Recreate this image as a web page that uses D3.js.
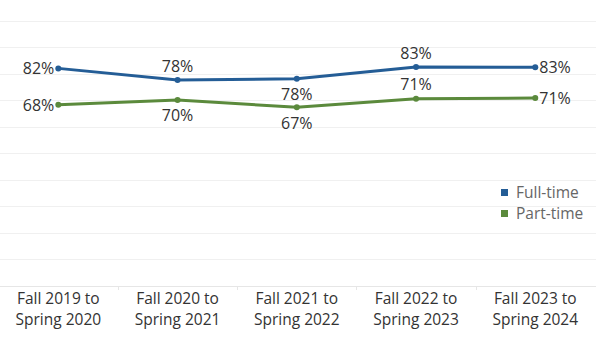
<!DOCTYPE html>
<html><head><meta charset="utf-8">
<script src="https://cdn.jsdelivr.net/npm/d3@7"></script>
<style>body{margin:0;background:#fff}svg{display:block}</style>
</head><body><svg id="c" width="606" height="337"></svg>
<script>
const categories = [["Fall 2019 to","Spring 2020"],["Fall 2020 to","Spring 2021"],["Fall 2021 to","Spring 2022"],["Fall 2022 to","Spring 2023"],["Fall 2023 to","Spring 2024"]];
const fullTime = [82.1, 77.7, 78.2, 82.6, 82.5];
const partTime = [68.4, 70.2, 67.4, 70.6, 70.9];
// label placement per point: left, above, below, right
const fullPos = ["left","above","below","above","right"];
const partPos = ["left","below","below","above","right"];
const gridTicks = [0,10,20,30,40,50,60,70,80,90,100];
const seriesNames = ["Full-time","Part-time"];
const colors = ["#245d96","#5b8a3c"];

const svg = d3.select("#c");
const font = "'Open Sans', sans-serif";
const keys = categories.map((c,i)=>i);
const x = d3.scaleBand().domain(keys).range([-1.3, 594.9]);
const y = d3.scaleLinear().domain([0,100]).range([285.7, 21]);

svg.append("g").selectAll("line").data(gridTicks).join("line")
  .attr("x1",0).attr("x2",596).attr("y1",d=>Math.round(y(d))+0.5).attr("y2",d=>Math.round(y(d))+0.5)
  .attr("stroke",d=>d===0?"#e6e6e6":"#f0f0f0").attr("stroke-width",1);

// column separator ticks
svg.append("g").selectAll("line").data(keys.slice(1)).join("line")
  .attr("x1",d=>Math.round(x(d))+0.5).attr("x2",d=>Math.round(x(d))+0.5)
  .attr("y1",Math.round(y(0))).attr("y2",Math.round(y(0))+4)
  .attr("stroke","#e6e6e6");

// x axis labels
const xl = svg.append("g").selectAll("text").data(keys).join("text")
  .attr("x",d=>x(d)+x.bandwidth()/2).attr("text-anchor","middle")
  .attr("font-family",font).attr("font-size",15.5).attr("fill","#333");
xl.append("tspan").attr("x",d=>x(d)+x.bandwidth()/2).attr("y",303.5).text(d=>categories[d][0]);
xl.append("tspan").attr("x",d=>x(d)+x.bandwidth()/2).attr("y",324.5).text(d=>categories[d][1]);

const line = d3.line().x((d,i)=>x(i)+x.bandwidth()/2).y(d=>y(d));
[[fullTime,fullPos],[partTime,partPos]].forEach(([vals,pos],s)=>{
  svg.append("path").datum(vals).attr("d",line).attr("fill","none")
    .attr("stroke",colors[s]).attr("stroke-width",3).attr("stroke-linejoin","round");
  svg.append("g").selectAll("circle").data(vals).join("circle")
    .attr("cx",(d,i)=>x(i)+x.bandwidth()/2).attr("cy",d=>y(d)).attr("r",3).attr("fill",colors[s]);
  svg.append("g").selectAll("text").data(vals).join("text")
    .attr("font-family",font).attr("font-size",16).attr("fill","#333")
    .attr("x",(d,i)=>{const cx=x(i)+x.bandwidth()/2; return pos[i]==="left"?cx-4:pos[i]==="right"?cx+4:cx;})
    .attr("y",(d,i)=>pos[i]==="above"?y(d)-14:pos[i]==="below"?y(d)+16:y(d)+0.5)
    .attr("dy","0.35em")
    .attr("text-anchor",(d,i)=>pos[i]==="left"?"end":pos[i]==="right"?"start":"middle")
    .text(d=>Math.round(d)+"%");
});

// legend
const lg = svg.append("g").selectAll("g").data(seriesNames).join("g")
  .attr("transform",(d,i)=>`translate(501,${189+i*21})`);
lg.append("rect").attr("width",7).attr("height",7).attr("fill",(d,i)=>colors[i]);
lg.append("text").attr("x",15).attr("y",3.5).attr("dy","0.35em")
  .attr("font-family",font).attr("font-size",15.5).attr("fill","#666").text(d=>d);
</script></body></html>
